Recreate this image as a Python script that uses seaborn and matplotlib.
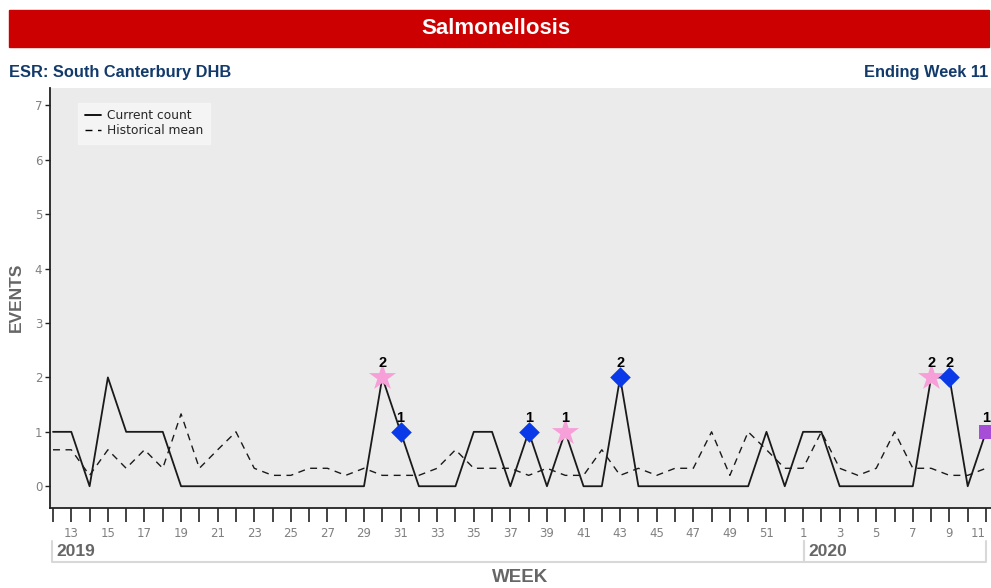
import matplotlib
matplotlib.use("Agg")
import matplotlib.pyplot as plt
import matplotlib.patches as mpatches
from matplotlib.lines import Line2D
import seaborn as sns
import pandas as pd
import numpy as np

# ---- data ----
weeks_2019 = list(range(12, 53))
weeks_2020 = list(range(1, 12))
week_labels = weeks_2019 + weeks_2020
current_count = [1, 1, 0, 2, 1, 1, 1, 0, 0, 0, 0, 0, 0, 0, 0, 0, 0, 0,
                 2, 1, 0, 0, 0, 1, 1, 0, 1, 0, 1, 0, 0, 2, 0, 0, 0, 0, 0, 0, 0, 1, 0,
                 1, 1, 0, 0, 0, 0, 0, 2, 2, 0, 1]
historical_mean = [0.67, 0.67, 0.2, 0.67, 0.33, 0.67, 0.33, 1.33, 0.33, 0.67, 1.0, 0.33,
                   0.2, 0.2, 0.33, 0.33, 0.2, 0.33, 0.2, 0.2, 0.2, 0.33, 0.67, 0.33, 0.33,
                   0.33, 0.2, 0.33, 0.2, 0.2, 0.67, 0.2, 0.33, 0.2, 0.33, 0.33, 1.0, 0.2,
                   1.0, 0.67, 0.33,
                   0.33, 1.0, 0.33, 0.2, 0.33, 1.0, 0.33, 0.33, 0.2, 0.2, 0.33]
flag_weeks = [30, 31, 38, 40, 43, 8, 9, 11]
flag_years = [2019, 2019, 2019, 2019, 2019, 2020, 2020, 2020]
flag_types = ["star", "diamond", "diamond", "star", "diamond", "star", "diamond", "square"]

years = [2019] * len(weeks_2019) + [2020] * len(weeks_2020)
df = pd.DataFrame({"idx": np.arange(len(week_labels)), "week": week_labels, "year": years,
                   "Current count": current_count, "Historical mean": historical_mean})

def idx_of(wk, yr):
    return int(df.index[(df.week == wk) & (df.year == yr)][0])

fl = pd.DataFrame({"idx": [idx_of(w, y) for w, y in zip(flag_weeks, flag_years)],
                   "type": flag_types})
fl["value"] = [df.loc[i, "Current count"] for i in fl.idx]

# ---- figure ----
sns.set_style("white")
plt.rcParams["font.family"] = ["Liberation Sans", "DejaVu Sans"]
W, H = 991, 588
fig = plt.figure(figsize=(W / 100, H / 100), dpi=100)

def fx(px): return px / W
def fy(py): return 1 - py / H

# banner
fig.patches.append(mpatches.Rectangle((fx(9), fy(47)), fx(989) - fx(9), fy(10) - fy(47),
                                      transform=fig.transFigure, color="#cc0000", zorder=0))
fig.text(0.5, fy(28.5), "Salmonellosis", ha="center", va="center", color="white",
         fontsize=16, fontweight="bold")
fig.text(fx(9), fy(72), "ESR: South Canterbury DHB", ha="left", va="center",
         color="#123a6b", fontsize=11.8, fontweight="bold")
fig.text(fx(988), fy(72), "Ending Week 11", ha="right", va="center",
         color="#123a6b", fontsize=11.8, fontweight="bold")

ax = fig.add_axes([fx(50), fy(508), fx(991) - fx(50), fy(88) - fy(508)])
ax.set_facecolor("#ebebeb")

sns.lineplot(data=df, x="idx", y="Current count", ax=ax, color="#1a1a1a", lw=1.3,
             label="Current count")
sns.lineplot(data=df, x="idx", y="Historical mean", ax=ax, color="#1a1a1a", lw=1.0,
             label="Historical mean", linestyle=(0, (5, 4)))

styles = {"star": dict(marker="*", color="#f79fd9", s=420),
          "diamond": dict(marker="D", color="#0a3ae8", s=110),
          "square": dict(marker="s", color="#a64fd6", s=110)}
for t, st in styles.items():
    sub = fl[fl.type == t]
    sns.scatterplot(data=sub, x="idx", y="value", ax=ax, marker=st["marker"], color=st["color"],
                    s=st["s"], linewidth=0, zorder=5, legend=False, clip_on=(t != "square"))
for _, r in fl.iterrows():
    ax.annotate(str(int(r.value)), (r.idx, r.value), xytext=(0, 5), textcoords="offset points",
                ha="center", va="bottom", fontsize=10.5, fontweight="bold", color="black",
                zorder=6)

px_per = (986 - 53) / (len(df) - 1)
ax.set_xlim(-(53 - 50) / px_per, (len(df) - 1) + (991 - 986) / px_per)
ax.set_ylim(-0.4, 7.32)
ax.set_yticks(range(0, 8))
ax.set_yticklabels([str(i) for i in range(8)], fontsize=8.5, color="#808080",
                   family="DejaVu Sans")
ax.set_xticks(df.idx)
ax.set_xticklabels([str(w) if w % 2 == 1 else "" for w in df.week], fontsize=8.5,
                   color="#808080", family="DejaVu Sans")
ax.get_xticklabels()[-1].set_horizontalalignment("right")
ax.tick_params(axis="x", direction="out", length=10, width=1.2, color="#222222", pad=4, bottom=True)
ax.tick_params(axis="y", direction="out", length=3.5, width=1, color="#222222", pad=2, left=True)
for s in ["top", "right"]:
    ax.spines[s].set_visible(False)
for s in ["left", "bottom"]:
    ax.spines[s].set_color("#222222")
    ax.spines[s].set_linewidth(1.3)
ax.set_xlabel("")
ax.set_ylabel("")
fig.text(fx(16), fy(297), "EVENTS", rotation=90, ha="center", va="center",
         fontsize=12.5, fontweight="bold", color="#666666")

leg = ax.legend(loc="upper left", bbox_to_anchor=(fx(72 - 50) / (fx(991) - fx(50)), 0.98),
                frameon=True, prop={"family": "DejaVu Sans", "size": 8.8},
                handlelength=1.3, handletextpad=0.5,
                borderpad=0.55, labelspacing=0.15, fancybox=False)
leg.get_frame().set_facecolor("#f7f7f7")
leg.get_frame().set_edgecolor("#f7f7f7")
for h in leg.get_lines():
    h.set_color("black")

# year boxes (left, bottom, right borders)
for x0, x1, lab in [(52, 804, "2019"), (804, 986, "2020")]:
    fig.add_artist(Line2D([fx(x0), fx(x0), fx(x1), fx(x1)], [fy(541), fy(562), fy(562), fy(541)],
                          transform=fig.transFigure, color="#d8d8d8", lw=1.5))
    fig.text(fx(x0 + 4), fy(551), lab, ha="left", va="center", color="#666666",
             fontsize=12.5, fontweight="bold")

fig.text(fx(520), fy(577), "WEEK", ha="center", va="center", color="#666666",
         fontsize=13.5, fontweight="bold")

fig.savefig("out.png", dpi=100)
